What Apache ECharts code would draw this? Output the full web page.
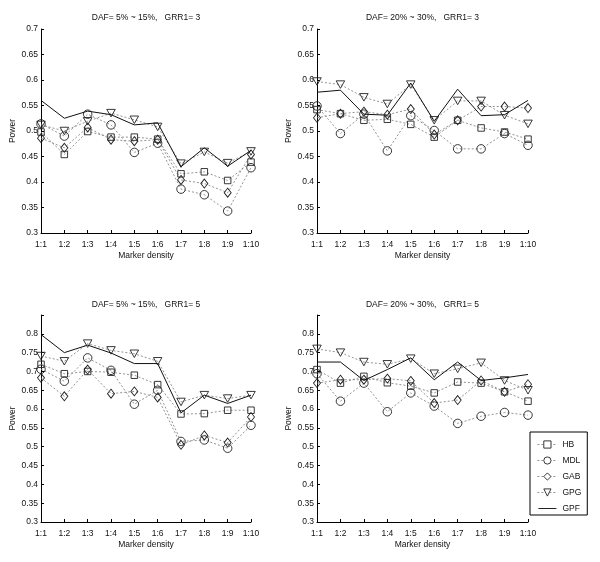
<!DOCTYPE html>
<html>
<head>
<meta charset="utf-8">
<script src="https://cdn.jsdelivr.net/npm/echarts@6/dist/echarts.min.js"></script>
<style>html,body{margin:0;padding:0;background:#fff;}#c{width:600px;height:562px;}</style>
</head>
<body>
<div id="c"></div>
<script>
const categories = ['1:1','1:2','1:3','1:4','1:5','1:6','1:7','1:8','1:9','1:10'];
const seriesNames = ['HB','MDL','GAB','GPG','GPF'];
const panelTitles = ['DAF= 5% ~ 15%,   GRR1= 3','DAF= 20% ~ 30%,   GRR1= 3','DAF= 5% ~ 15%,   GRR1= 5','DAF= 20% ~ 30%,   GRR1= 5'];

// Panel 1: DAF 5-15%, GRR1=3
const p1HB  = [0.498, 0.454, 0.499, 0.488, 0.488, 0.484, 0.416, 0.420, 0.403, 0.439];
const p1MDL = [0.514, 0.490, 0.533, 0.512, 0.458, 0.476, 0.386, 0.375, 0.343, 0.428];
const p1GAB = [0.486, 0.467, 0.507, 0.483, 0.480, 0.483, 0.404, 0.397, 0.379, 0.454];
const p1GPG = [0.512, 0.500, 0.519, 0.535, 0.522, 0.508, 0.436, 0.459, 0.437, 0.460];
const p1GPF = [0.560, 0.525, 0.539, 0.532, 0.512, 0.516, 0.430, 0.467, 0.431, 0.462];

// Panel 2: DAF 20-30%, GRR1=3
const p2HB  = [0.542, 0.534, 0.521, 0.523, 0.513, 0.488, 0.521, 0.506, 0.498, 0.484];
const p2MDL = [0.549, 0.495, 0.533, 0.461, 0.530, 0.501, 0.465, 0.465, 0.495, 0.472];
const p2GAB = [0.526, 0.534, 0.538, 0.532, 0.543, 0.493, 0.521, 0.548, 0.548, 0.545];
const p2GPG = [0.597, 0.591, 0.566, 0.553, 0.591, 0.521, 0.559, 0.559, 0.531, 0.514];
const p2GPF = [0.576, 0.580, 0.533, 0.531, 0.594, 0.519, 0.582, 0.530, 0.532, 0.560];

// Panel 3: DAF 5-15%, GRR1=5
const p3HB  = [0.719, 0.694, 0.700, 0.698, 0.690, 0.665, 0.587, 0.588, 0.597, 0.597];
const p3MDL = [0.706, 0.674, 0.736, 0.703, 0.613, 0.650, 0.514, 0.518, 0.496, 0.557];
const p3GAB = [0.683, 0.634, 0.705, 0.641, 0.647, 0.631, 0.505, 0.530, 0.511, 0.579];
const p3GPG = [0.741, 0.727, 0.774, 0.756, 0.747, 0.727, 0.619, 0.637, 0.628, 0.637];
const p3GPF = [0.798, 0.750, 0.770, 0.749, 0.721, 0.721, 0.590, 0.637, 0.615, 0.637];

// Panel 4: DAF 20-30%, GRR1=5
const p4HB  = [0.705, 0.669, 0.687, 0.670, 0.661, 0.643, 0.672, 0.669, 0.646, 0.621];
const p4MDL = [0.694, 0.621, 0.669, 0.593, 0.643, 0.608, 0.562, 0.581, 0.591, 0.584];
const p4GAB = [0.669, 0.678, 0.678, 0.681, 0.675, 0.616, 0.624, 0.676, 0.646, 0.666];
const p4GPG = [0.760, 0.750, 0.725, 0.719, 0.734, 0.694, 0.707, 0.723, 0.676, 0.650];
const p4GPF = [0.725, 0.725, 0.676, 0.705, 0.736, 0.678, 0.725, 0.676, 0.683, 0.692];

const panelData = [
  [p1HB, p1MDL, p1GAB, p1GPG, p1GPF],
  [p2HB, p2MDL, p2GAB, p2GPG, p2GPF],
  [p3HB, p3MDL, p3GAB, p3GPG, p3GPF],
  [p4HB, p4MDL, p4GAB, p4GPG, p4GPF]
];
const yMax = [0.7, 0.7, 0.85, 0.85];

const FONT = 'Liberation Sans';
const FS = 8.5;
const TXT = '#111';
const grids = [
  {left: 41, top: 29, width: 210, height: 204},
  {left: 317, top: 29, width: 211, height: 204},
  {left: 41, top: 315, width: 210, height: 207},
  {left: 317, top: 315, width: 211, height: 207}
];
const titleTops = [13.5, 13.5, 300.5, 300.5];

const symbolSpec = {
  HB:  {symbol: 'rect', size: 6.5, rotate: 0},
  MDL: {symbol: 'circle', size: 8.5, rotate: 0},
  GAB: {symbol: 'diamond', size: [7, 9], rotate: 0},
  GPG: {symbol: 'triangle', size: [8.5, 7.5], rotate: 180},
  GPF: {symbol: 'none', size: 0, rotate: 0}
};

// legend icon for the plain solid line (tiny corner dots fix the bounding box)
const lineIcon = 'path://M0,0H0.01V0.01H0Z M0,4.5H20V5.5H0Z M20,10H19.99V9.99H20Z';

const option = {
  backgroundColor: '#fff',
  animation: false,
  title: grids.map((g, i) => ({
    text: panelTitles[i],
    left: g.left + g.width / 2,
    top: titleTops[i],
    padding: 0,
    textAlign: 'center',
    textStyle: {fontFamily: FONT, fontSize: FS, fontWeight: 'normal', color: TXT}
  })),
  grid: grids,
  legend: {
    orient: 'vertical',
    left: 530, top: 432,
    itemWidth: 20, itemHeight: 9, itemGap: 7,
    padding: [8, 6, 2, 7],
    borderColor: '#000', borderWidth: 1,
    itemStyle: {color: '#fff', borderColor: '#222', borderWidth: 0.9},
    lineStyle: {width: 0.8},
    textStyle: {fontFamily: FONT, fontSize: FS, color: TXT},
    data: ['HB', 'MDL', 'GAB', 'GPG', {name: 'GPF', icon: lineIcon, itemStyle: {color: '#222', borderWidth: 0}}]
  },
  xAxis: grids.map((g, i) => ({
    type: 'category', gridIndex: i, data: categories, boundaryGap: false,
    name: 'Marker density', nameLocation: 'middle', nameGap: 18,
    nameTextStyle: {fontFamily: FONT, fontSize: FS, color: TXT},
    axisLine: {lineStyle: {color: '#000', width: 1}},
    axisTick: {inside: true, length: 3, lineStyle: {color: '#000'}},
    axisLabel: {fontFamily: FONT, fontSize: FS, color: TXT, margin: 7, interval: 0},
    splitLine: {show: false}
  })),
  yAxis: grids.map((g, i) => ({
    type: 'value', gridIndex: i, min: 0.3, max: yMax[i], interval: 0.05,
    name: 'Power', nameLocation: 'middle', nameGap: 22,
    nameTextStyle: {fontFamily: FONT, fontSize: FS, color: TXT},
    axisLine: {show: true, lineStyle: {color: '#000', width: 1}},
    axisTick: {show: true, inside: true, length: 3, lineStyle: {color: '#000'}},
    axisLabel: {fontFamily: FONT, fontSize: FS, color: TXT, margin: 3,
      formatter: v => (v > 0.81 ? '' : String(Math.round(v * 100) / 100))},
    splitLine: {show: false}
  })),
  series: []
};

panelData.forEach((arrs, pi) => {
  arrs.forEach((vals, si) => {
    const name = seriesNames[si];
    const sp = symbolSpec[name];
    const isGPF = name === 'GPF';
    option.series.push({
      type: 'line', name: name, xAxisIndex: pi, yAxisIndex: pi,
      data: vals,
      symbol: sp.symbol, symbolSize: sp.size, symbolRotate: sp.rotate,
      showSymbol: !isGPF,
      itemStyle: {color: 'rgba(255,255,255,0)', borderColor: '#222', borderWidth: 0.9},
      lineStyle: isGPF ? {color: '#111', width: 1, type: 'solid'} : {color: '#777', width: 0.8, type: [2, 2]},
      z: isGPF ? 3 : 2
    });
  });
});

const chart = echarts.init(document.getElementById('c'), null, {renderer: 'canvas'});
chart.setOption(option);
</script>
</body>
</html>
